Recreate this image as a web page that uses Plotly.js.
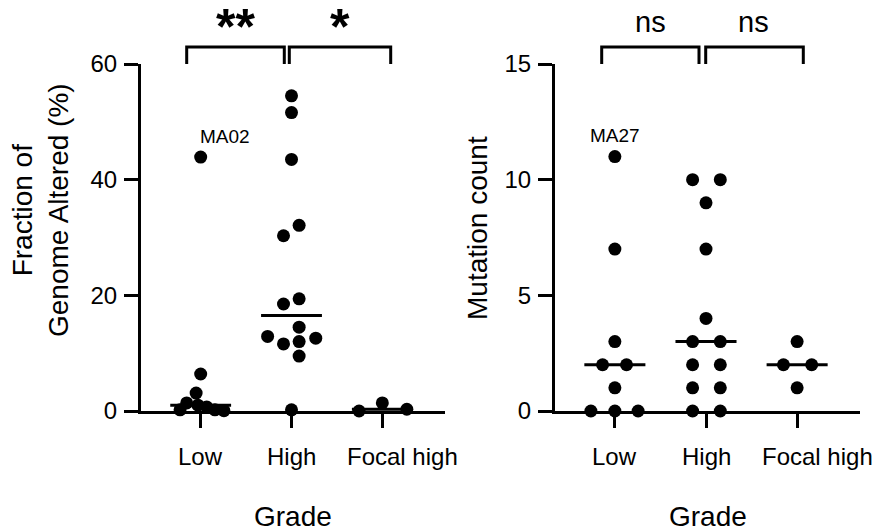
<!DOCTYPE html>
<html>
<head>
<meta charset="utf-8">
<script src="https://cdn.plot.ly/plotly-3.0.1.min.js"></script>
<style>
html,body{margin:0;padding:0;background:#fff;}
#chart{width:874px;height:532px;}
</style>
</head>
<body>
<div id="chart"></div>
<script>
// ---------- data ----------
const grades = ["Low", "High", "Focal high"];

// Fraction of genome altered (%)
const fgaLow   = [43.9, 6.4, 3.1, 1.4, 1.0, 0.7, 0.2, 0.2, 0.05];
const fgaHigh  = [54.5, 51.6, 43.5, 32.1, 30.3, 19.4, 18.5, 14.5, 12.9, 12.6, 12.0, 11.6, 9.5, 0.2];
const fgaFocal = [1.4, 0.3, 0.0];

// Mutation count
const mutLow   = [11, 7, 3, 2, 2, 1, 0, 0, 0];
const mutHigh  = [10, 10, 9, 7, 4, 3, 3, 2, 2, 1, 1, 0, 0];
const mutFocal = [3, 2, 2, 1];

// horizontal scatter spread of each point (in category widths)
const fgaLowSpread   = [0, 0, -0.05, -0.154, -0.03, 0.066, -0.227, 0.157, 0.256];
const fgaHighSpread  = [0, 0, 0, 0.084, -0.088, 0.084, -0.088, 0.084, -0.263, 0.267, 0.084, -0.088, 0.084, 0];
const fgaFocalSpread = [0, 0.27, -0.256];
const mutLowSpread   = [0, 0, 0, -0.135, 0.128, 0, -0.263, 0, 0.255];
const mutHighSpread  = [-0.147, 0.157, 0, 0, 0, -0.147, 0.157, -0.147, 0.157, -0.147, 0.157, -0.147, 0.157];
const mutFocalSpread = [0, -0.15, 0.16, 0];

const fgaTicks = [0, 20, 40, 60];
const mutTicks = [0, 5, 10, 15];
const fgaSig = ["**", "*"];
const mutSig = ["ns", "ns"];
const labels = [
  {text: "MA02", panel: 1, group: 0, value: 43.9, shift: 0.27},
  {text: "MA27", panel: 2, group: 0, value: 11, shift: 0}
];

// ---------- helpers ----------
const W = 874, H = 532;
const PX = x => x / W;
const PY = y => 1 - y / H;
const FONT = "Liberation Sans, Arial, Helvetica, sans-serif";

function median(a) {
  const s = a.slice().sort((p, q) => p - q);
  const n = s.length;
  return n % 2 ? s[(n - 1) / 2] : (s[n / 2 - 1] + s[n / 2]) / 2;
}

const traces = [];
function addGroups(groups, spreads, xa, ya) {
  groups.forEach((vals, i) => {
    const m = median(vals);
    traces.push({
      type: "scatter", mode: "lines", xaxis: xa, yaxis: ya,
      x: [i - 0.335, i + 0.335], y: [m, m],
      line: {color: "#000", width: 3}, cliponaxis: false,
      hoverinfo: "skip", showlegend: false
    });
    traces.push({
      type: "scatter", mode: "markers", xaxis: xa, yaxis: ya,
      x: vals.map((v, k) => i + spreads[i][k]), y: vals,
      marker: {color: "#000", size: 13, line: {width: 0}},
      cliponaxis: false, hoverinfo: "y", showlegend: false
    });
  });
}
addGroups([fgaLow, fgaHigh, fgaFocal], [fgaLowSpread, fgaHighSpread, fgaFocalSpread], "x", "y");
addGroups([mutLow, mutHigh, mutFocal], [mutLowSpread, mutHighSpread, mutFocalSpread], "x2", "y2");

const xRange = [-0.657, 2.69];
function xAxis(domain, anchor) {
  return {
    domain: domain, anchor: anchor, range: xRange, fixedrange: true,
    tickvals: grades.map((g, i) => i), showticklabels: false,
    showline: true, linecolor: "#000", linewidth: 3,
    ticks: "outside", ticklen: 14, tickwidth: 3, tickcolor: "#000",
    showgrid: false, zeroline: false
  };
}
function yAxis(domain, anchor, range, ticks) {
  return {
    domain: domain, anchor: anchor, range: range, fixedrange: true,
    tickvals: ticks,
    showline: true, linecolor: "#000", linewidth: 3,
    ticks: "outside", ticklen: 14, tickwidth: 3, tickcolor: "#000",
    ticklabelstandoff: 2,
    showgrid: false, zeroline: false,
    tickfont: {family: FONT, size: 24, color: "#000"}
  };
}

const yDom = [PY(411), PY(64)];

// significance brackets
const shapes = [];
function bracket(x0, x1) {
  shapes.push({
    type: "path", xref: "paper", yref: "paper",
    path: `M ${PX(x0)} ${PY(64)} L ${PX(x0)} ${PY(47)} L ${PX(x1)} ${PY(47)} L ${PX(x1)} ${PY(64)}`,
    line: {color: "#000", width: 3}
  });
}
bracket(186.7, 284.3); bracket(289.3, 390.7);
bracket(601.7, 699); bracket(705.7, 803.3);

const annotations = [];
function txt(text, x, y, size, extra) {
  annotations.push(Object.assign({
    text: text, xref: "paper", yref: "paper", x: PX(x), y: PY(y),
    xanchor: "center", yanchor: "middle", showarrow: false,
    font: {family: FONT, size: size, color: "#000"}
  }, extra || {}));
}
// category labels (the last one sits a little right of its tick in the original)
["x", "x2"].forEach(xa => {
  grades.forEach((g, i) => {
    annotations.push({
      text: g, xref: xa, yref: "paper", x: i, y: PY(456),
      xshift: i === grades.length - 1 ? 20 : 0,
      xanchor: "center", yanchor: "middle", showarrow: false,
      font: {family: FONT, size: 24, color: "#000"}
    });
  });
});
// significance marks
txt("<b>" + fgaSig[0] + "</b>", 235, 27, 50);
txt("<b>" + fgaSig[1] + "</b>", 340, 27, 50);
txt(mutSig[0], 650, 22, 29);
txt(mutSig[1], 753, 22, 29);
// axis titles
txt("Grade", 293, 516, 28);
txt("Grade", 708, 516, 28);
txt("Fraction of<br>Genome Altered (%)", 40, 210, 28, {textangle: -90});
txt("Mutation count", 477, 228, 28, {textangle: -90});
// point labels
labels.forEach(l => {
  annotations.push({
    text: l.text, xref: l.panel === 1 ? "x" : "x2", yref: l.panel === 1 ? "y" : "y2",
    x: l.group + l.shift, y: l.value, yshift: 21,
    xanchor: "center", yanchor: "middle", showarrow: false,
    font: {family: FONT, size: 19, color: "#000"}
  });
});

const layout = {
  width: W, height: H,
  margin: {l: 0, r: 0, t: 0, b: 0},
  paper_bgcolor: "#fff", plot_bgcolor: "#fff",
  showlegend: false,
  xaxis: xAxis([PX(141), PX(445)], "y"),
  yaxis: yAxis(yDom, "x", [0, 60], fgaTicks),
  xaxis2: xAxis([PX(555), PX(860)], "y2"),
  yaxis2: yAxis(yDom, "x2", [0, 15], mutTicks),
  shapes: shapes,
  annotations: annotations
};

Plotly.newPlot("chart", traces, layout, {displayModeBar: false, staticPlot: true});
</script>
</body>
</html>
